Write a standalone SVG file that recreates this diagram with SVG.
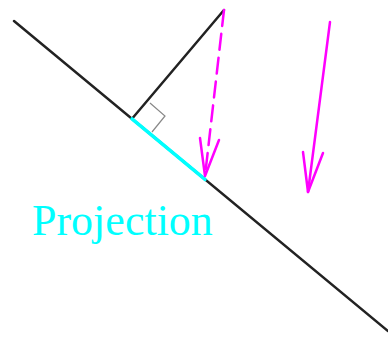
<svg xmlns="http://www.w3.org/2000/svg" width="388" height="337" viewBox="0 0 388 337">
<style>
.blk{stroke:#222;stroke-width:2.5;fill:none;stroke-linecap:round}
.mag{stroke:#f0f;stroke-width:2.5;fill:none;stroke-linecap:round;stroke-linejoin:round}
</style>
<rect width="388" height="337" fill="#fff"/>
<g id="plane">
<line class="blk" x1="14" y1="21" x2="388" y2="331"/>
</g>
<g id="normal">
<line class="blk" x1="132" y1="118.8" x2="224" y2="10"/>
<polyline points="150,103 165,116 152,132" fill="none" stroke="#888" stroke-width="1.2"/>
</g>
<g id="projection">
<line x1="132" y1="118.8" x2="205" y2="179.3" stroke="#0ff" stroke-width="3.5" stroke-linecap="round"/>
<text x="32" y="235" font-family="Liberation Serif, serif" font-size="44" fill="#0ff">Projection</text>
</g>
<g id="connectors">
<g id="dashed-arrow">
<line class="mag" x1="224" y1="10" x2="205" y2="176" stroke-dasharray="16 8"/>
<polyline class="mag" points="200,138 205,176 219,140"/>
</g>
<g id="solid-arrow">
<line class="mag" x1="330" y1="22" x2="308" y2="192"/>
<polyline class="mag" points="303,152 308,192 323,153"/>
</g>
</g>
</svg>
